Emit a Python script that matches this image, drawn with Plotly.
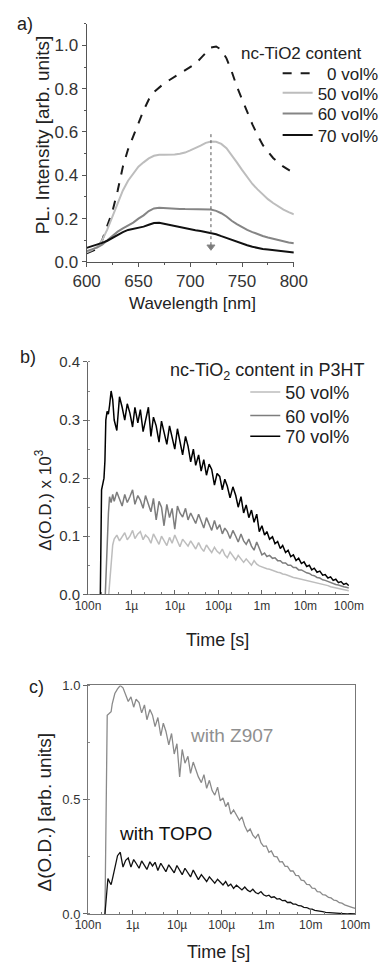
import plotly.graph_objects as go

# ---------------- panel a data ----------------
WAVELENGTH = [600, 605, 610, 615, 620, 625, 630, 635, 640, 645, 650, 655, 660, 665, 670,
              675, 680, 685, 690, 695, 700, 705, 710, 715, 720, 725, 730, 735, 740, 745,
              750, 755, 760, 765, 770, 775, 780, 785, 790, 795, 800]
PL_0VOL = [0.04, 0.05, 0.06, 0.10, 0.165, 0.235, 0.33, 0.44, 0.52, 0.585, 0.64, 0.70, 0.75, 0.785,
           0.805, 0.825, 0.84, 0.855, 0.87, 0.885, 0.90, 0.915, 0.94, 0.965, 0.99, 0.995, 0.98,
           0.94, 0.88, 0.81, 0.75, 0.69, 0.635, 0.585, 0.54, 0.51, 0.48, 0.46, 0.44, 0.425, 0.41]
PL_50VOL = [0.045, 0.055, 0.07, 0.10, 0.15, 0.21, 0.27, 0.33, 0.375, 0.41, 0.44, 0.46, 0.478,
            0.49, 0.495, 0.495, 0.495, 0.496, 0.50, 0.505, 0.515, 0.525, 0.537, 0.55, 0.556,
            0.555, 0.545, 0.525, 0.495, 0.46, 0.425, 0.39, 0.36, 0.335, 0.31, 0.29, 0.272,
            0.256, 0.242, 0.23, 0.22]
PL_60VOL = [0.05, 0.058, 0.066, 0.08, 0.10, 0.12, 0.14, 0.155, 0.167, 0.182, 0.20, 0.215, 0.235,
            0.247, 0.25, 0.248, 0.246, 0.245, 0.245, 0.244, 0.243, 0.243, 0.243, 0.243, 0.242,
            0.236, 0.225, 0.21, 0.19, 0.175, 0.16, 0.148, 0.138, 0.128, 0.12, 0.113, 0.107,
            0.10, 0.095, 0.09, 0.086]
PL_70VOL = [0.065, 0.072, 0.08, 0.088, 0.098, 0.112, 0.125, 0.138, 0.148, 0.153, 0.156, 0.163,
            0.172, 0.18, 0.181, 0.176, 0.169, 0.163, 0.158, 0.153, 0.149, 0.146, 0.143, 0.139,
            0.135, 0.128, 0.119, 0.11, 0.101, 0.093, 0.085, 0.077, 0.07, 0.064, 0.06, 0.057,
            0.054, 0.05, 0.047, 0.045, 0.044]
ARROW_WL = [720, 720]
ARROW_PL = [0.59, 0.07]
LEGEND_A = ["\u00a0\u00a00 vol%", "50 vol%", "60 vol%", "70 vol%"]

# ---------------- panels b, c: shared time grid [s] ----------------
TIME_TICKS = [1e-7, 1e-6, 1e-5, 1e-4, 1e-3, 1e-2, 1e-1]
TIME_LABELS = ["100n", "1µ", "10µ", "100µ", "1m", "10m", "100m"]
T_GRID = [4.0e-7, 4.6e-7, 5.3e-7, 6.1e-7, 7.0e-7, 8.0e-7, 9.2e-7, 1.06e-6, 1.2e-6, 1.4e-6,
          1.6e-6, 1.85e-6, 2.1e-6, 2.45e-6, 2.8e-6, 3.2e-6, 3.7e-6, 4.3e-6, 4.9e-6, 5.6e-6,
          6.5e-6, 7.5e-6, 8.6e-6, 9.9e-6, 1.14e-5, 1.3e-5, 1.5e-5, 1.75e-5, 2.0e-5, 2.3e-5,
          2.65e-5, 3.0e-5, 3.5e-5, 4.0e-5, 4.6e-5, 5.3e-5, 6.1e-5, 7.0e-5, 8.1e-5, 9.3e-5,
          1.07e-4, 1.23e-4, 1.4e-4, 1.6e-4, 1.85e-4, 2.15e-4, 2.5e-4, 2.85e-4, 3.3e-4, 3.8e-4,
          4.35e-4, 5.0e-4, 5.75e-4, 6.6e-4, 7.6e-4, 8.7e-4, 1.0e-3, 1.15e-3, 1.3e-3, 1.5e-3,
          1.75e-3, 2.0e-3, 2.3e-3, 2.65e-3, 3.0e-3, 3.5e-3, 4.0e-3, 4.6e-3, 5.3e-3, 6.1e-3,
          7.0e-3, 8.1e-3, 9.3e-3, 1.07e-2, 1.23e-2, 1.4e-2, 1.6e-2, 1.85e-2, 2.15e-2, 2.5e-2,
          2.85e-2, 3.3e-2, 3.8e-2, 4.35e-2, 5.0e-2, 5.75e-2, 6.6e-2, 7.6e-2, 8.7e-2, 1.0e-1]

# panel b: rise portions + values on T_GRID
T_B70_RISE = [1.92e-7, 1.98e-7, 2.05e-7, 2.19e-7, 2.33e-7, 2.45e-7, 2.57e-7, 2.75e-7, 2.94e-7,
              3.13e-7, 3.4e-7, 3.7e-7]
B70_RISE = [0.0, 0.12, 0.18, 0.19, 0.20, 0.23, 0.30, 0.315, 0.31, 0.325, 0.35, 0.335]
B70 = [0.300, 0.282, 0.340, 0.322, 0.300, 0.328, 0.312, 0.288, 0.322, 0.295,
       0.318, 0.280, 0.302, 0.322, 0.272, 0.305, 0.290, 0.262, 0.298, 0.280,
       0.258, 0.290, 0.270, 0.250, 0.285, 0.262, 0.240, 0.272, 0.255, 0.228,
       0.250, 0.222, 0.240, 0.212, 0.232, 0.205, 0.224, 0.215, 0.188, 0.208,
       0.203, 0.180, 0.198, 0.186, 0.166, 0.185, 0.170, 0.150, 0.168, 0.140,
       0.154, 0.132, 0.145, 0.124, 0.138, 0.108, 0.118, 0.102, 0.108, 0.095,
       0.099, 0.087, 0.091, 0.079, 0.084, 0.072, 0.076, 0.065, 0.068, 0.058,
       0.062, 0.053, 0.056, 0.048, 0.050, 0.042, 0.045, 0.038, 0.040, 0.033,
       0.034, 0.028, 0.030, 0.024, 0.026, 0.020, 0.022, 0.017, 0.019, 0.015]

T_B60_RISE = [2.5e-7, 2.65e-7, 2.8e-7, 2.95e-7, 3.13e-7, 3.4e-7, 3.7e-7]
B60_RISE = [0.0, 0.06, 0.11, 0.14, 0.168, 0.158, 0.172]
B60 = [0.160, 0.176, 0.165, 0.152, 0.172, 0.158, 0.168, 0.180, 0.155, 0.170,
       0.162, 0.148, 0.170, 0.155, 0.142, 0.165, 0.128, 0.160, 0.150, 0.118,
       0.155, 0.132, 0.148, 0.112, 0.152, 0.140, 0.133, 0.148, 0.128, 0.140,
       0.130, 0.122, 0.138, 0.125, 0.114, 0.132, 0.120, 0.110, 0.127, 0.112,
       0.120, 0.104, 0.114, 0.108, 0.096, 0.110, 0.100, 0.090, 0.104, 0.092,
       0.086, 0.095, 0.083, 0.076, 0.090, 0.080, 0.068, 0.071, 0.065, 0.067,
       0.062, 0.063, 0.058, 0.058, 0.054, 0.054, 0.050, 0.050, 0.046, 0.046,
       0.042, 0.042, 0.039, 0.037, 0.036, 0.033, 0.032, 0.029, 0.028, 0.025,
       0.024, 0.022, 0.020, 0.019, 0.017, 0.016, 0.014, 0.013, 0.012, 0.011]

T_B50_RISE = [3.0e-7, 3.2e-7, 3.4e-7, 3.7e-7]
B50_RISE = [0.0, 0.03, 0.06, 0.085]
B50 = [0.095, 0.102, 0.092, 0.098, 0.106, 0.094, 0.100, 0.110, 0.096, 0.104,
       0.108, 0.094, 0.102, 0.097, 0.088, 0.104, 0.096, 0.086, 0.100, 0.092,
       0.084, 0.098, 0.088, 0.102, 0.090, 0.082, 0.095, 0.088, 0.083, 0.092,
       0.084, 0.078, 0.089, 0.080, 0.074, 0.085, 0.078, 0.072, 0.081, 0.074,
       0.070, 0.078, 0.068, 0.063, 0.073, 0.065, 0.059, 0.067, 0.060, 0.055,
       0.061, 0.056, 0.050, 0.058, 0.052, 0.049, 0.047, 0.046, 0.044, 0.043,
       0.041, 0.040, 0.038, 0.037, 0.035, 0.034, 0.032, 0.031, 0.029, 0.028,
       0.027, 0.026, 0.025, 0.024, 0.022, 0.021, 0.020, 0.019, 0.018, 0.017,
       0.016, 0.015, 0.013, 0.012, 0.011, 0.010, 0.009, 0.008, 0.007, 0.006]
LEGEND_B = ["50 vol%", "60 vol%", "70 vol%"]

# panel c
T_Z907_RISE = [2.4e-7, 2.5e-7, 2.6e-7, 2.7e-7, 2.9e-7, 3.1e-7, 3.3e-7, 3.5e-7, 3.75e-7]
Z907_RISE = [0.0, 0.4, 0.8, 0.87, 0.875, 0.88, 0.885, 0.92, 0.95]
Z907 = [0.965, 0.985, 1.000, 0.990, 0.955, 0.930, 0.950, 0.905, 0.940, 0.925,
        0.880, 0.915, 0.850, 0.895, 0.870, 0.820, 0.860, 0.780, 0.835, 0.800,
        0.740, 0.790, 0.700, 0.745, 0.600, 0.720, 0.660, 0.690, 0.615, 0.665,
        0.630, 0.600, 0.575, 0.610, 0.550, 0.585, 0.540, 0.520, 0.555, 0.495,
        0.508, 0.470, 0.488, 0.437, 0.455, 0.430, 0.410, 0.425, 0.385, 0.360,
        0.372, 0.345, 0.332, 0.350, 0.312, 0.296, 0.298, 0.270, 0.276, 0.252,
        0.250, 0.228, 0.229, 0.208, 0.208, 0.188, 0.188, 0.169, 0.168, 0.148,
        0.146, 0.129, 0.128, 0.113, 0.112, 0.098, 0.097, 0.084, 0.082, 0.072,
        0.070, 0.060, 0.058, 0.049, 0.047, 0.040, 0.037, 0.031, 0.028, 0.024]
T_TOPO_RISE = [2.4e-7, 2.6e-7, 2.8e-7, 3.05e-7, 3.3e-7, 3.6e-7, 3.75e-7]
TOPO_RISE = [0.0, 0.1, 0.155, 0.14, 0.128, 0.16, 0.175]
TOPO = [0.200, 0.255, 0.270, 0.205, 0.235, 0.245, 0.205, 0.238, 0.222, 0.200,
        0.232, 0.215, 0.195, 0.228, 0.210, 0.226, 0.190, 0.222, 0.205, 0.185,
        0.215, 0.195, 0.180, 0.212, 0.190, 0.172, 0.200, 0.180, 0.162, 0.192,
        0.168, 0.150, 0.172, 0.158, 0.142, 0.162, 0.150, 0.135, 0.152, 0.138,
        0.127, 0.142, 0.122, 0.130, 0.112, 0.126, 0.115, 0.105, 0.118, 0.104,
        0.097, 0.108, 0.094, 0.088, 0.098, 0.084, 0.078, 0.082, 0.072, 0.075,
        0.065, 0.067, 0.058, 0.059, 0.050, 0.051, 0.043, 0.043, 0.036, 0.035,
        0.029, 0.028, 0.022, 0.021, 0.016, 0.015, 0.011, 0.010, 0.007, 0.006,
        0.004, 0.004, 0.002, 0.002, 0.001, 0.001, 0.000, 0.001, 0.000, 0.000]

for arr in (B70, B60, B50, Z907, TOPO):
    assert len(arr) == len(T_GRID)

# ---------------- figure ----------------
W, H = 387, 971
FONT = "Liberation Sans, Arial, Helvetica, sans-serif"
TXT = "#222222"


def px(x):
    return x / W


def py(y):
    return 1 - y / H


fig = go.Figure()
legends = {}

# panel a: one legend box per entry so rows sit like the reference
a_rows = [66, 86, 107, 129]
for i, (name, vals, color, dash) in enumerate([(LEGEND_A[0], PL_0VOL, "#1a1a1a", "dash"),
                                               (LEGEND_A[1], PL_50VOL, "#bdbdbd", "solid"),
                                               (LEGEND_A[2], PL_60VOL, "#858585", "solid"),
                                               (LEGEND_A[3], PL_70VOL, "#111111", "solid")]):
    key = "legend" if i == 0 else f"legend{i + 1}"
    legends[key] = dict(x=px(285), xanchor="left", y=py(a_rows[i]), yanchor="middle",
                        font=dict(family=FONT, size=17, color=TXT),
                        bgcolor="rgba(0,0,0,0)")
    fig.add_trace(go.Scatter(x=WAVELENGTH, y=vals, mode="lines", name=name,
                             line=dict(color=color, width=2, dash=dash),
                             xaxis="x", yaxis="y", legend=key))
fig.add_trace(go.Scatter(x=ARROW_WL, y=ARROW_PL, mode="lines+markers", showlegend=False,
                         line=dict(color="#555555", width=1, dash="dot"),
                         marker=dict(symbol="triangle-down", size=[0, 7], color="#444444"),
                         xaxis="x", yaxis="y"))

# panel b
b_rows = [391, 415, 436]
for i, (name, tr, rise, vals, color) in enumerate(
        [(LEGEND_B[0], T_B50_RISE, B50_RISE, B50, "#bdbdbd"),
         (LEGEND_B[1], T_B60_RISE, B60_RISE, B60, "#7d7d7d"),
         (LEGEND_B[2], T_B70_RISE, B70_RISE, B70, "#000000")]):
    key = f"legend{i + 5}"
    legends[key] = dict(x=px(250), xanchor="left", y=py(b_rows[i]), yanchor="middle",
                        font=dict(family=FONT, size=18, color=TXT),
                        bgcolor="rgba(0,0,0,0)")
    fig.add_trace(go.Scatter(x=tr + T_GRID, y=rise + vals, mode="lines", name=name,
                             line=dict(color=color, width=1.5),
                             xaxis="x2", yaxis="y2", legend=key))

# panel c
fig.add_trace(go.Scatter(x=T_Z907_RISE + T_GRID, y=Z907_RISE + Z907, mode="lines",
                         showlegend=False, line=dict(color="#8a8a8a", width=1.3),
                         xaxis="x3", yaxis="y3"))
fig.add_trace(go.Scatter(x=T_TOPO_RISE + T_GRID, y=TOPO_RISE + TOPO, mode="lines",
                         showlegend=False, line=dict(color="#111111", width=1.3),
                         xaxis="x3", yaxis="y3"))


def axis(size, **kw):
    d = dict(showgrid=False, zeroline=False, showline=True, linewidth=1,
             tickfont=dict(family=FONT, color="#333333", size=size))
    d.update(kw)
    return d


fig.update_layout(
    width=W, height=H, margin=dict(l=0, r=0, t=0, b=0), autosize=False,
    paper_bgcolor="white", plot_bgcolor="white",
    font=dict(family=FONT, color=TXT),
    xaxis=axis(17, domain=[px(78.5), px(302.5)], anchor="y", range=[600, 800], dtick=50,
               ticks="outside", ticklen=4, tickcolor="#555", linecolor="#555",
               minor=dict(dtick=25, ticks="outside", ticklen=2, tickcolor="#555")),
    yaxis=axis(17, domain=[py(258), py(15)], anchor="x", range=[0, 1.1], dtick=0.2,
               tickformat=".1f", ticks="outside", ticklen=4, tickcolor="#555",
               linecolor="#555",
               minor=dict(dtick=0.1, ticks="outside", ticklen=2, tickcolor="#555")),
    xaxis2=axis(12, domain=[px(80), px(362)], anchor="y2", type="log", range=[-7, -1],
                tickvals=TIME_TICKS, ticktext=TIME_LABELS, ticks="inside", ticklen=4,
                tickcolor="#666", linecolor="#666",
                minor=dict(ticks="inside", ticklen=2, tickcolor="#777")),
    yaxis2=axis(15, domain=[py(597), py(360)], anchor="x2", range=[0, 0.4], dtick=0.1,
                tickformat=".1f", ticks="outside", ticklen=4, tickcolor="#666",
                linecolor="#666",
                minor=dict(dtick=0.05, ticks="inside", ticklen=2, tickcolor="#888")),
    xaxis3=axis(12, domain=[px(80), px(369)], anchor="y3", type="log", range=[-7, -1],
                tickvals=TIME_TICKS, ticktext=TIME_LABELS, ticks="inside", ticklen=4,
                tickcolor="#666", linecolor="#777", mirror=True,
                minor=dict(ticks="inside", ticklen=2, tickcolor="#777")),
    yaxis3=axis(13, domain=[py(923), py(690)], anchor="x3", range=[0, 1], dtick=0.5,
                tickformat=".1f", ticks="outside", ticklen=4, tickcolor="#666",
                linecolor="#777", mirror=True,
                minor=dict(dtick=0.25, ticks="inside", ticklen=2, tickcolor="#888")),
    **legends,
)

ann = [
    ("a)", 12, 15, 18, TXT, 0, "center"),
    ("b)", 15, 355, 18, TXT, 0, "center"),
    ("c)", 24, 692, 18, TXT, 0, "center"),
    ("nc-TiO2 content", 378, 45, 17, TXT, 0, "right"),
    ("nc-TiO<sub>2</sub> content in P3HT", 380, 370, 18, TXT, 0, "right"),
    ("Wavelength [nm]", 193, 300, 17, TXT, 0, "center"),
    ("PL. Intensity [arb. units]", 31, 128, 19, TXT, -90, "center"),
    ("Δ(O.D.) x 10<sup>3</sup>", 32, 501, 17, TXT, -90, "center"),
    ("Time [s]", 220, 644, 18, TXT, 0, "center"),
    ("Δ(O.D.) [arb. units]", 33, 820, 19, TXT, -90, "center"),
    ("Time [s]", 221, 962, 18, TXT, 0, "center"),
    ("with Z907", 235, 741, 19, "#8f8f8f", 0, "center"),
    ("with TOPO", 164, 841, 19, "#111111", 0, "center"),
]
for text, x, y, size, color, angle, xa in ann:
    fig.add_annotation(text=text, x=px(x), y=py(y), xref="paper", yref="paper",
                       xanchor=xa, yanchor="middle", showarrow=False, textangle=angle,
                       font=dict(family=FONT, size=size, color=color))

fig.write_html("out.html")
